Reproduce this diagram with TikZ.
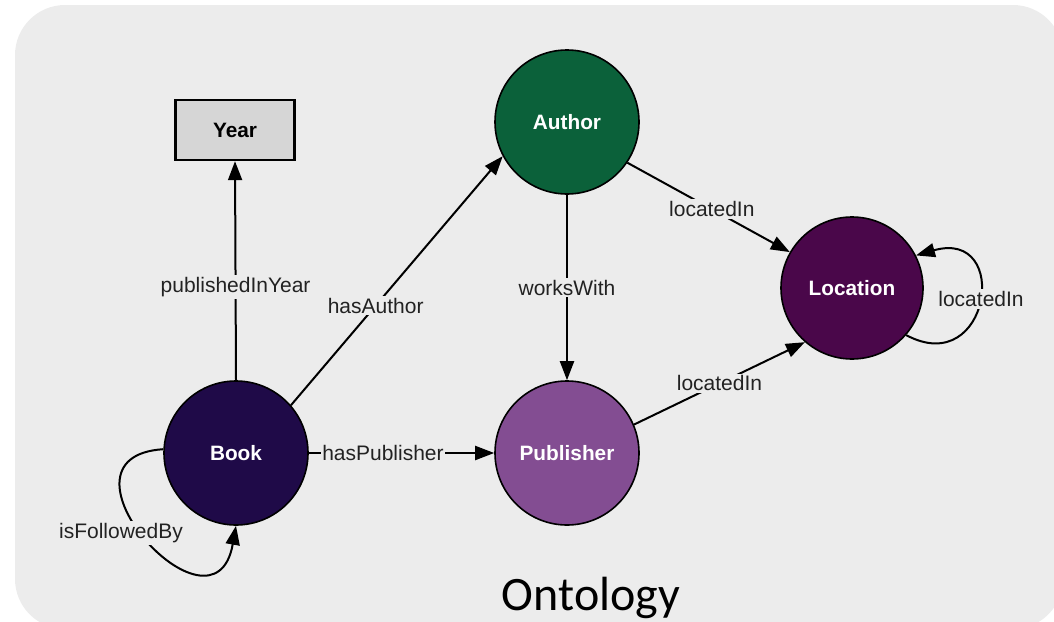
\documentclass[tikz,border=0pt]{standalone}
\usepackage{fontspec}
\setmainfont{Liberation Sans}
\newfontfamily\captionfont{Carlito}
\usetikzlibrary{arrows.meta}

\definecolor{panel}{HTML}{ECECEC}
\definecolor{yearfill}{HTML}{D6D6D6}
\definecolor{bookc}{HTML}{1F0A48}
\definecolor{authorc}{HTML}{0B613A}
\definecolor{publisherc}{HTML}{834D92}
\definecolor{locationc}{HTML}{4A074A}
\definecolor{labeltext}{HTML}{222222}

\begin{document}
\begin{tikzpicture}[x=1pt,y=-1pt,
  concept/.style={circle, draw=black, line width=1.6pt, minimum size=144pt,
    inner sep=0pt, text=white, font=\bfseries\fontsize{20.8}{24}\selectfont},
  literal/.style={rectangle, draw=black, line width=2.4pt, fill=yearfill,
    minimum width=119pt, minimum height=60pt, inner sep=0pt,
    font=\bfseries\fontsize{20.8}{24}\selectfont},
  rel/.style={line width=2pt, draw=black, -{Triangle[length=19pt,width=14pt]}},
  lbl/.style={fill=panel, inner sep=2pt, text=labeltext,
    font=\fontsize{21}{24}\selectfont}]

\useasboundingbox (0,0) rectangle (1054,621);
\clip (0,0) rectangle (1054,621);

% panel
\fill[panel, rounded corners=50pt] (15,5) rectangle (1063,629);

% classes
\node[literal] (year) at (235,130) {Year};
\node[concept, fill=authorc] (author) at (567,122) {Author};
\node[concept, fill=locationc, minimum size=142pt] (loc) at (852,288) {Location};
\node[concept, fill=bookc] (book) at (236,453) {Book};
\node[concept, fill=publisherc] (pub) at (567,453) {Publisher};

% properties
\draw[rel] (book.north) -- node[lbl, pos=0.425] (lpy) {publishedInYear} (year.south);
\draw[rel] (book.41) -- node[lbl, pos=0.4] (lha) {hasAuthor} (author.208);
\draw[rel] (book.east) -- node[lbl, pos=0.4, inner sep=1pt] (lhp) {hasPublisher} (pub.west);
\draw[rel] (author.south) -- node[lbl, pos=0.5] (lww) {worksWith} (pub.north);
\draw[rel] (author.-34) -- node[lbl, pos=0.52] (lal) {locatedIn} (loc.150);
\draw[rel] (pub.23) -- node[lbl, pos=0.5] (lpl) {locatedIn} (loc.229);

% self loops
\draw[rel] (book.177) .. controls (40,457) and (214,650) .. (book.south);
\node[lbl] (lfb) at (121,533) {isFollowedBy};
\draw[rel] (loc.-41) .. controls (990,380) and (1012,228) .. (loc.27);
\node[lbl] (lll) at (981,299) {locatedIn};

% caption
\node[font=\captionfont\fontsize{48}{56}\selectfont, inner sep=0pt] (cap) at (591,598) {Ontology};
\end{tikzpicture}
\end{document}
